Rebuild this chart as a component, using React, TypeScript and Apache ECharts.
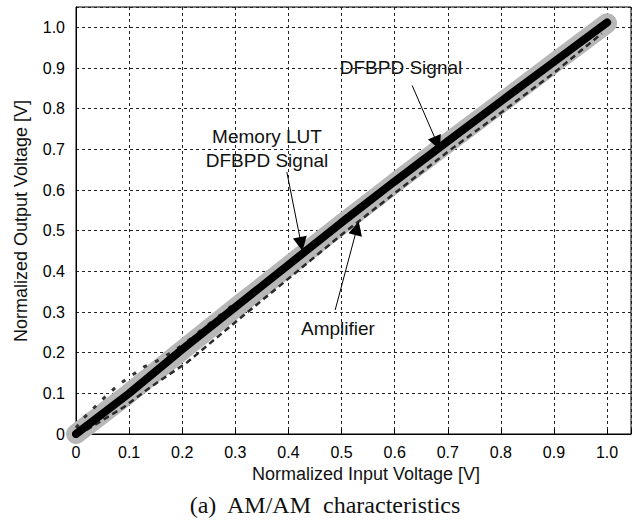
import React, { useEffect, useRef } from "react";
import * as echarts from "echarts";

const xTicks = [0, 0.1, 0.2, 0.3, 0.4, 0.5, 0.6, 0.7, 0.8, 0.9, 1.0];
const yTicks = [0, 0.1, 0.2, 0.3, 0.4, 0.5, 0.6, 0.7, 0.8, 0.9, 1.0];

// DFBPD signal (black thick line)
const dfbpdX = [0, 0.1, 0.2, 0.3, 0.4, 0.5, 0.6, 0.7, 0.8, 0.9, 1.0];
const dfbpdY = [0, 0.1, 0.208, 0.312, 0.416, 0.52, 0.621, 0.72, 0.818, 0.915, 1.012];

// Memory LUT DFBPD signal (grey band)
const lutX = [0, 0.1, 0.2, 0.3, 0.4, 0.5, 0.6, 0.7, 0.8, 0.9, 1.0];
const lutY = [0, 0.1, 0.206, 0.31, 0.413, 0.516, 0.617, 0.716, 0.814, 0.912, 1.01];

// Amplifier (dark dashed, lower edge)
const ampLowX = [0.02, 0.09, 0.14, 0.21, 0.3, 0.4, 0.5, 0.6, 0.7, 0.8, 0.9, 0.99];
const ampLowY = [0.01, 0.066, 0.115, 0.177, 0.275, 0.382, 0.49, 0.592, 0.694, 0.79, 0.888, 0.985];

// Amplifier spread (dark dashes above the line, low drive)
const ampHighX = [0.0, 0.015, 0.05, 0.079, 0.128, 0.153, 0.179, 0.204, 0.25, 0.3];
const ampHighY = [0.015, 0.04, 0.085, 0.12, 0.165, 0.18, 0.2, 0.222, 0.27, 0.322];

const zip = (xs: number[], ys: number[]) => xs.map((x, i) => [x, ys[i]]);

const fmt = (v: number) => (v > 1.0001 ? "" : v === 0 ? "0" : v.toFixed(1));

export default function App() {
  const ref = useRef<HTMLDivElement>(null);
  useEffect(() => {
    document.body.style.margin = "0";
    const chart = echarts.init(ref.current!, undefined, { renderer: "svg" });
    const sans = "'Liberation Sans', Arial, sans-serif";
    const option: any = {
      animation: false,
      backgroundColor: "#fff",
      grid: {
        left: 76,
        right: 7,
        top: 7,
        bottom: 88,
        show: true,
        borderColor: "#000",
        borderWidth: 1,
      },
      xAxis: {
        type: "value",
        min: 0,
        max: 1.045,
        interval: 0.1,
        axisLine: { show: true, lineStyle: { color: "#000", width: 1 } },
        axisTick: { show: true, inside: true, length: 5, lineStyle: { color: "#000" } },
        axisLabel: {
          formatter: fmt,
          color: "#000",
          fontSize: 16,
          fontFamily: sans,
          margin: 10,
        },
        splitLine: { show: true, lineStyle: { color: "#222", type: [3, 3], width: 1 } },
      },
      yAxis: {
        type: "value",
        min: 0,
        max: 1.05,
        interval: 0.1,
        axisLine: { show: true, lineStyle: { color: "#000", width: 1 } },
        axisTick: { show: false },
        axisLabel: {
          formatter: fmt,
          color: "#000",
          fontSize: 16,
          fontFamily: sans,
          margin: 11,
        },
        splitLine: { show: true, lineStyle: { color: "#222", type: [3, 3], width: 1 } },
      },
      series: [
        {
          name: "Memory LUT DFBPD Signal",
          type: "line",
          data: zip(lutX, lutY),
          showSymbol: false,
          lineStyle: { color: "#b7b7b7", width: 20, cap: "round" },
          z: 2,
          silent: true,
        },
        {
          name: "Amplifier",
          type: "line",
          data: zip(ampLowX, ampLowY),
          showSymbol: false,
          lineStyle: { color: "#2a2a2a", width: 2.5, type: [6, 4] },
          z: 3,
          silent: true,
        },
        {
          name: "Amplifier spread",
          type: "line",
          data: zip(ampHighX, ampHighY),
          showSymbol: false,
          lineStyle: { color: "#333", width: 3, type: [4, 9] },
          z: 3,
          silent: true,
        },
        {
          name: "DFBPD Signal",
          type: "line",
          data: zip(dfbpdX, dfbpdY),
          showSymbol: false,
          itemStyle: { color: "#000" },
          lineStyle: { color: "#000", width: 8, cap: "round" },
          z: 4,
          silent: true,
          markLine: {
            silent: true,
            symbol: ["none", "triangle"],
            symbolSize: 14,
            label: { show: false },
            itemStyle: { color: "#000" },
            lineStyle: { color: "#000", width: 1, type: "solid" },
            data: [
              [{ coord: [0.633, 0.857] }, { coord: [0.68, 0.715] }],
              [{ coord: [0.397, 0.644] }, { coord: [0.424, 0.467] }],
              [{ coord: [0.488, 0.305] }, { coord: [0.529, 0.506] }],
            ],
          },
        },
      ],
      graphic: [
        {
          type: "text",
          x: 401,
          y: 67,
          style: {
            text: "DFBPD Signal",
            font: `19px ${sans}`,
            fill: "#111",
            align: "center",
            verticalAlign: "middle",
          },
        },
        {
          type: "text",
          x: 267,
          y: 148,
          style: {
            text: "Memory LUT\nDFBPD Signal",
            font: `19px ${sans}`,
            lineHeight: 24,
            fill: "#111",
            align: "center",
            verticalAlign: "middle",
          },
        },
        {
          type: "text",
          x: 338,
          y: 328,
          style: {
            text: "Amplifier",
            font: `19px ${sans}`,
            fill: "#111",
            align: "center",
            verticalAlign: "middle",
          },
        },
        {
          type: "text",
          x: 366,
          y: 474,
          style: {
            text: "Normalized Input Voltage [V]",
            font: `18px ${sans}`,
            fill: "#111",
            align: "center",
            verticalAlign: "middle",
          },
        },
        {
          type: "text",
          x: 21,
          y: 221,
          rotation: Math.PI / 2,
          style: {
            text: "Normalized Output Voltage [V]",
            font: `18px ${sans}`,
            fill: "#111",
            align: "center",
            verticalAlign: "middle",
          },
        },
        {
          type: "text",
          x: 325,
          y: 505,
          style: {
            text: "(a)  AM/AM  characteristics",
            font: `24px 'Liberation Serif', 'Times New Roman', serif`,
            fill: "#111",
            align: "center",
            verticalAlign: "middle",
          },
        },
      ],
    };
    chart.setOption(option);
    return () => chart.dispose();
  }, []);
  return (
    <div
      ref={ref}
      style={{ position: "fixed", left: 0, top: 0, width: 638, height: 522 }}
    />
  );
}
